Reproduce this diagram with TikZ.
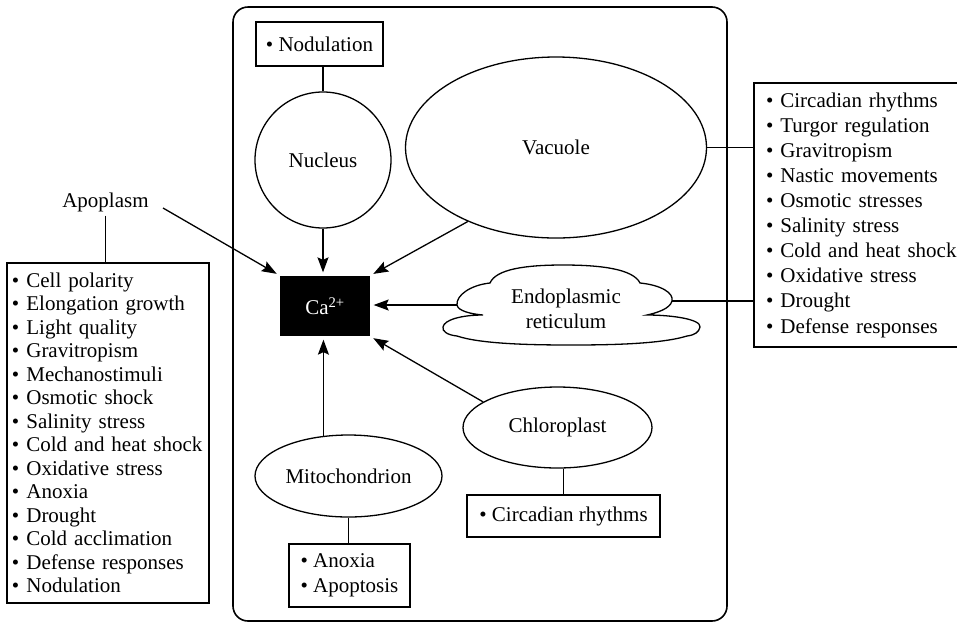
\documentclass[tikz,border=0pt]{standalone}
\usepackage{fontspec}
\setmainfont{Liberation Serif}
\usetikzlibrary{arrows.meta,shapes.geometric}

\begin{document}
\begin{tikzpicture}[x=1pt, y=-1pt, line width=1.3pt, >={Stealth[length=15pt,width=11pt,inset=2.5pt]},
  every node/.style={font=\fontsize{21}{24}\selectfont},
  organelle/.style={draw, ellipse, inner sep=0pt},
  listbox/.style={draw, align=left, inner xsep=5pt, inner ysep=3pt},
  arr/.style={->, shorten >=3pt}]
  \useasboundingbox (0,0) rectangle (957,622);
  % cell outline
  \draw[line width=1.6pt, rounded corners=15pt] (233,7) rectangle (727,621);
  % compartments
  \node[draw, circle, minimum size=136pt, inner sep=0pt] (nuc) at (323,160) {Nucleus};
  \node[organelle, minimum width=301pt, minimum height=181pt] (vac) at (556,147.5) {Vacuole};
  \node[align=center, font=\fontsize{21}{25}\selectfont] (er) at (566,309) {Endoplasmic\\reticulum};
  % ER outline (cloud)
  \draw[shift={(571,305)}]
    (-81,-22) .. controls (-75,-36) and (-45,-40) .. (-8,-40)
    .. controls (30,-40) and (62,-36) .. (69,-22)
    .. controls (90,-20) and (103,-12) .. (101,-4) coordinate (err)
    .. controls (99,4) and (85,8) .. (76,10)
    .. controls (100,10) and (130,14) .. (129,22)
    .. controls (128,27) and (124,30) .. (116,31)
    .. controls (90,39) and (40,40) .. (0,40)
    .. controls (-40,40) and (-90,39) .. (-114,31)
    .. controls (-124,30) and (-129,26) .. (-128,22)
    .. controls (-127,15) and (-110,10) .. (-88,10)
    .. controls (-100,9) and (-113,6) .. (-114,0) coordinate (erl)
    .. controls (-115,-10) and (-100,-20) .. cycle;
  \node[organelle, minimum width=187pt, minimum height=82pt] (mito) at (348.5,476) {Mitochondrion};
  \node[organelle, minimum width=189pt, minimum height=81pt] (chl) at (557.5,427.5) {Chloroplast};
  \node[fill=black, text=white, minimum width=90pt, minimum height=60pt] (ca) at (325,306) {Ca\textsuperscript{2+}};
  \node (apo) at (105.5,202) {Apoplasm};
  % responses
  \node[listbox, minimum width=127pt, minimum height=44pt] (nod) at (319.5,44) {\textbullet\ Nodulation};
  \node[listbox, minimum width=121pt, minimum height=63pt, font=\fontsize{21}{25}\selectfont] (anox) at (349.5,575.5)
    {\textbullet\ Anoxia\\ \textbullet\ Apoptosis};
  \node[listbox, minimum width=193pt, minimum height=42pt] (circ) at (563.5,516) {\textbullet\ Circadian rhythms};
  \node[listbox, text width=192pt, minimum height=340pt, font=\fontsize{21}{23.5}\selectfont] (lbox) at (108,433)
    {\textbullet\ Cell polarity\\ \textbullet\ Elongation growth\\ \textbullet\ Light quality\\
     \textbullet\ Gravitropism\\ \textbullet\ Mechanostimuli\\ \textbullet\ Osmotic shock\\
     \textbullet\ Salinity stress\\ \textbullet\ Cold and heat shock\\ \textbullet\ Oxidative stress\\
     \textbullet\ Anoxia\\ \textbullet\ Drought\\ \textbullet\ Cold acclimation\\
     \textbullet\ Defense responses\\ \textbullet\ Nodulation};
  \node[listbox, text width=200pt, inner xsep=12pt, minimum height=264pt, font=\fontsize{21}{25.1}\selectfont] (rbox) at (866,215)
    {\textbullet\ Circadian rhythms\\ \textbullet\ Turgor regulation\\ \textbullet\ Gravitropism\\
     \textbullet\ Nastic movements\\ \textbullet\ Osmotic stresses\\ \textbullet\ Salinity stress\\
     \textbullet\ Cold and heat shock\\ \textbullet\ Oxidative stress\\ \textbullet\ Drought\\
     \textbullet\ Defense responses};
  % links to Ca2+
  \draw[arr, shorten <=12pt] (apo.east) -- (ca.north west);
  \draw[arr] (nuc.south) -- (nuc.south |- ca.north);
  \draw[arr] (vac.220) -- (ca.north east);
  \draw[arr] (erl) -- (erl -| ca.east);
  \draw[arr] (chl.161) -- (ca.south east);
  \draw[arr] (mito.122) -- (mito.122 |- ca.south);
  % links to responses
  \draw (apo.south) -- (apo.south |- lbox.north);
  \draw (nuc.north) -- (nuc.north |- nod.south);
  \draw (mito.south) -- (mito.south |- anox.north);
  \draw (circ.north) -- (circ.north |- chl.south);
  \draw (vac.east) -- (vac.east -| rbox.west);
  \draw (err) -- (err -| rbox.west);
\end{tikzpicture}
\end{document}
